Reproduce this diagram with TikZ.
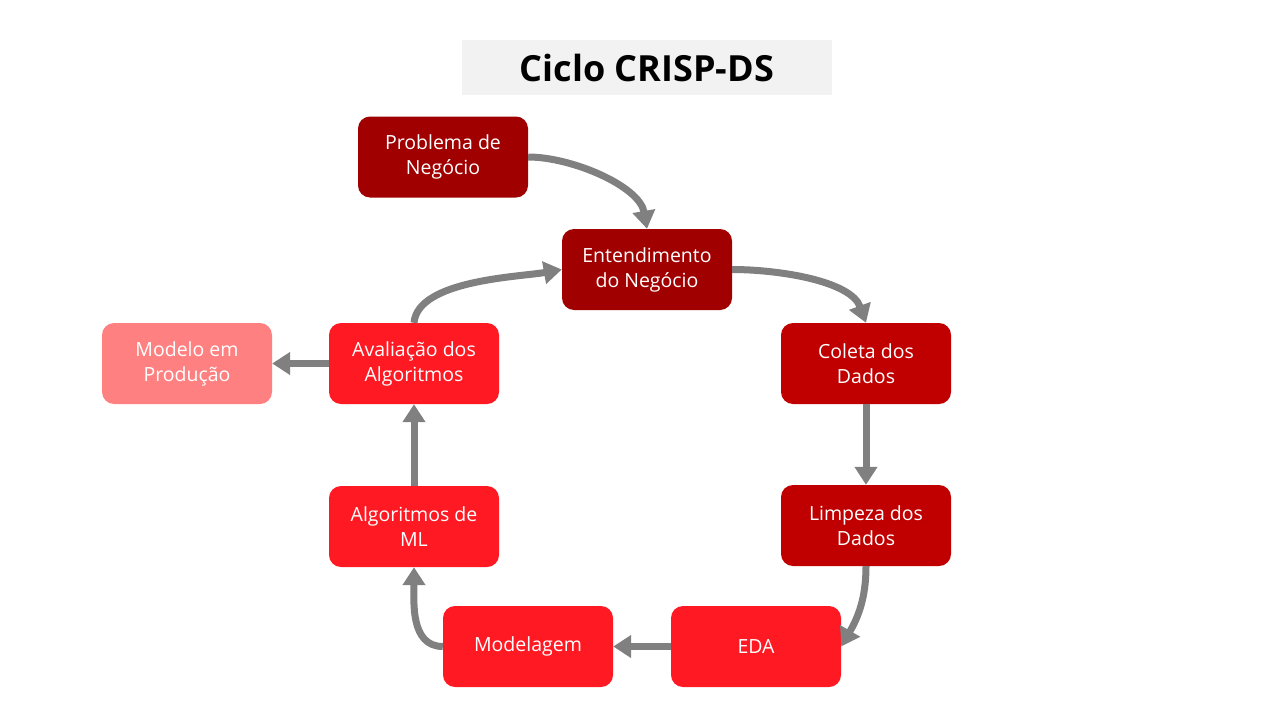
\documentclass[tikz,border=0pt]{standalone}
\usepackage{fontspec}
\setmainfont{Open Sans}
\usetikzlibrary{arrows.meta}
\definecolor{titlegray}{RGB}{242,242,242}
\definecolor{arrowgray}{RGB}{128,128,128}
\definecolor{stepdark}{RGB}{160,0,0}
\definecolor{stepmid}{RGB}{192,0,0}
\definecolor{steplight}{RGB}{255,25,35}
\definecolor{steppink}{RGB}{255,128,128}
\begin{document}
\begin{tikzpicture}[x=1pt,y=-1pt,
    box/.style={rounded corners=12pt,minimum width=170pt,minimum height=81pt,
      align=center,text=white,font=\fontsize{19.5}{25}\selectfont},
    flow/.style={draw=arrowgray,line width=7pt,-{Triangle[width=22pt,length=18pt]}}]
      \useasboundingbox (0,0) rectangle (1280,720);
      \node[fill=titlegray,minimum width=370pt,minimum height=55pt,
        font=\fontsize{36}{40}\selectfont\bfseries] (title) at (647,67.5) {Ciclo CRISP-DS};
      \path
        (443,157) node[box,fill=stepdark] (0){Problema de\\Negócio}
        (647,269.5) node[box,fill=stepdark] (1){Entendimento\\do Negócio}
        (866,363.5) node[box,fill=stepmid] (2){Coleta dos\\Dados}
        (866,525.5) node[box,fill=stepmid] (3){Limpeza dos\\Dados}
        (756,646.5) node[box,fill=steplight] (4){EDA}
        (528,646.5) node[box,fill=steplight] (5){Modelagem}
        (414,526.5) node[box,fill=steplight] (6){Algoritmos de\\ML}
        (414,363.5) node[box,fill=steplight] (7){Avaliação dos\\Algoritmos}
        (187,363.5) node[box,fill=steppink] (8){Modelo em\\Produção};
      \begin{scope}[flow]
        \draw (0.east) to[out=0,in=100,looseness=0.8] (1.north);
        \draw (1.east) to[out=0,in=110,looseness=0.8] (2.north);
        \draw (2) to (3);
        \draw (3.south) to[out=-90,in=60] (4.east);
        \draw (4) to (5);
        \draw (5.west) to[out=180,in=-90] (6.south);
        \draw (6) to (7);
        \draw (7.north) to[out=85,in=190,looseness=0.7] (1.west);
        \draw (7) to (8);
      \end{scope}
    \end{tikzpicture}
\end{document}
